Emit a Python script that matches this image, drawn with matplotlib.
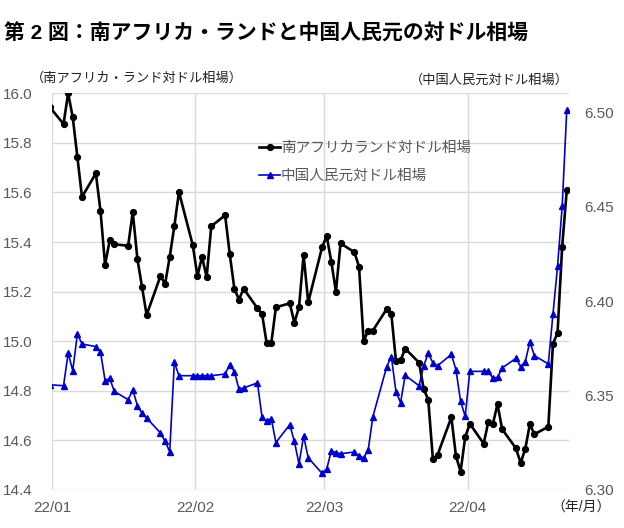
import matplotlib
matplotlib.use("Agg")
import matplotlib.pyplot as plt
import pandas as pd

plt.rcParams['font.family'] = ['Liberation Sans', 'Noto Sans CJK JP', 'DejaVu Sans']

# business days, 2021-12-31 .. 2022-04-22
dates = pd.bdate_range("2021-12-31", "2022-04-22")

zar = [15.945,
       15.876, 16.00, 15.903, 15.743, 15.582, 15.677, 15.527, 15.308, 15.407, 15.391,
       15.385, 15.521, 15.332, 15.219, 15.106, 15.263, 15.231, 15.340, 15.464, 15.602,
       15.387,
       15.263, 15.340, 15.259, 15.464, 15.508, 15.352, 15.212, 15.168, 15.212,
       15.133, 15.110, 14.992, 14.992, 15.137, 15.153, 15.075, 15.137, 15.348, 15.157,
       15.379,
       15.424, 15.321, 15.200, 15.395, 15.359, 15.301, 15.001, 15.043, 15.043,
       15.130, 15.110, 14.920, 14.923, 14.970, 14.914, 14.809, 14.763, 14.524, 14.541,
       14.693, 14.537, 14.474, 14.614,
       14.667, 14.587, 14.674, 14.667, 14.746, 14.645, 14.568, 14.509, 14.565, 14.665,
       14.625, 14.655, 14.988, 15.035, 15.381, 15.610]

cny = [6.3557,
       6.3552, 6.3724, 6.3632, 6.3826, 6.3773, 6.3759, 6.3733, 6.3579, 6.3591, 6.3522,
       6.3478, 6.3530, 6.3447, 6.3406, 6.3381, 6.3302, 6.3257, 6.3203, 6.3676, 6.3605,
       6.3605,
       6.3605, 6.3605, 6.3605, 6.3605, 6.3614, 6.3664, 6.3627, 6.3533, 6.3540,
       6.3567, 6.3385, 6.3365, 6.3378, 6.3251, 6.3346, 6.3257, 6.3138, 6.3286, 6.3170,
       6.3088,
       6.3111, 6.3207, 6.3198, 6.3192, 6.3201, 6.3180, 6.3170, 6.3213, 6.3388,
       6.3653, 6.3706, 6.3521, 6.3462, 6.3607, 6.3552, 6.3657, 6.3724, 6.3673, 6.3657,
       6.3718, 6.3636, 6.3469, 6.3390,
       6.3628, 6.3628, 6.3628, 6.3591, 6.3597, 6.3646, 6.3697, 6.3653, 6.3678, 6.3784,
       6.3711, 6.3667, 6.3929, 6.4184, 6.4501, 6.5013]

month_ticks = ["2022-01-01", "2022-02-01", "2022-03-01", "2022-04-01"]
month_labels = ["22/01", "22/02", "22/03", "22/04"]
left_ticks = [14.4, 14.6, 14.8, 15.0, 15.2, 15.4, 15.6, 15.8, 16.0]
right_ticks = [6.30, 6.35, 6.40, 6.45, 6.50]

gray = '#595959'
grid = '#d9d9d9'

fig = plt.figure(figsize=(6.24, 5.28), dpi=100)
ax = fig.add_axes([0.0833, 0.072, 0.8287, 0.7513])
ax2 = ax.twinx()

x = dates + pd.Timedelta(hours=12)
l1, = ax.plot(x, zar, color='black', lw=1.9, marker='o', ms=4.2,
              label='南アフリカランド対ドル相場')
l2, = ax2.plot(x, cny, color='#0000cc', lw=1.2, marker='^', ms=4.5,
               label='中国人民元対ドル相場')

ax.set_xlim(pd.Timestamp("2022-01-01"), pd.Timestamp("2022-04-23"))
ax.set_ylim(14.4, 16.0)
ax2.set_ylim(6.30, 6.51)

ax.set_yticks(left_ticks)
ax.set_yticklabels([f"{v:.1f}" for v in left_ticks])
ax2.set_yticks(right_ticks)
ax2.set_yticklabels([f"{v:.2f}" for v in right_ticks])
ax.set_xticks(pd.to_datetime(month_ticks))
ax.set_xticklabels(month_labels)

ax.grid(True, color=grid, lw=1)
ax.set_axisbelow(True)
for a in (ax, ax2):
    for s in a.spines.values():
        s.set_visible(False)
    a.tick_params(length=0, labelsize=11, colors=gray)
ax.tick_params(axis='y', pad=14)
ax.tick_params(axis='x', pad=8)
ax2.tick_params(axis='y', pad=11)

leg = ax.legend(handles=[l1, l2], loc='upper left', bbox_to_anchor=(0.39, 0.895),
                frameon=False, fontsize=10.5, handlelength=1.4, handletextpad=0.05,
                labelspacing=0.95, borderaxespad=0)
for t in leg.get_texts():
    t.set_color(gray)

fig.text(0.006, 0.936, "第 2 図：南アフリカ・ランドと中国人民元の対ドル相場",
         fontsize=15, fontweight='bold', va='center', ha='left')
fig.text(0.05, 0.852, "（南アフリカ・ランド対ドル相場）", fontsize=9.5,
         va='center', ha='left', color='#222222')
fig.text(0.912, 0.848, "（中国人民元対ドル相場）", fontsize=9.5,
         va='center', ha='right', color='#222222')
fig.text(0.884, 0.038, "（年/月）", fontsize=10, va='center', ha='left',
         color='#222222')

fig.savefig("out.png", dpi=100)
